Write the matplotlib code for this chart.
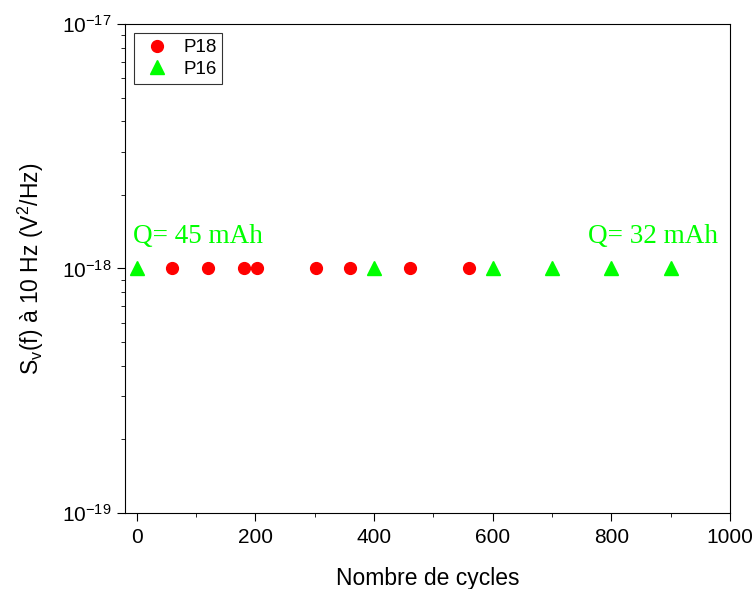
import matplotlib
matplotlib.use("Agg")
import matplotlib.pyplot as plt
from matplotlib.ticker import LogLocator, MultipleLocator, NullFormatter

p18_cycles = [60, 120, 180, 202, 302, 360, 460, 560]
p18_sv = [1e-18] * len(p18_cycles)
p16_cycles = [0, 400, 600, 700, 800, 900]
p16_sv = [1e-18] * len(p16_cycles)

plt.rcParams['font.family'] = ['Liberation Sans', 'DejaVu Sans']
plt.rcParams['mathtext.fontset'] = 'custom'
plt.rcParams['mathtext.rm'] = 'Liberation Sans'
plt.rcParams['mathtext.it'] = 'Liberation Sans'

fig = plt.figure(figsize=(7.56, 5.89), dpi=100)
ax = fig.add_axes([0.1653, 0.129, 0.8003, 0.8303])

ax.plot(p18_cycles, p18_sv, 'o', color='#ff0000', markersize=8.5, label='P18', linestyle='none')
ax.plot(p16_cycles, p16_sv, '^', color='#00ff00', markersize=10, label='P16', linestyle='none')

ax.set_yscale('log')
ax.set_ylim(1e-19, 1e-17)
ax.set_xlim(-20, 1000)
ax.xaxis.set_major_locator(MultipleLocator(200))
ax.xaxis.set_minor_locator(MultipleLocator(100))
ax.yaxis.set_major_locator(LogLocator(base=10))
ax.yaxis.set_minor_locator(LogLocator(base=10, subs=range(2, 10)))
ax.yaxis.set_minor_formatter(NullFormatter())
ax.tick_params(axis='both', which='major', direction='out', length=6, labelsize=15, top=False, right=False)
ax.tick_params(axis='x', which='major', pad=5)
ax.tick_params(axis='both', which='minor', direction='out', length=3, top=False, right=False)

ax.set_xlabel('Nombre de cycles', fontsize=16.5, labelpad=14)
ax.set_ylabel('S$_\\mathregular{v}$(f) à 10 Hz (V$^\\mathregular{2}$/Hz)', fontsize=16.5, labelpad=12)

ax.text(-7, 1.2e-18, 'Q= 45 mAh', color='#00ff00', fontsize=19.5, family='Liberation Serif', ha='left', va='bottom')
ax.text(980, 1.2e-18, 'Q= 32 mAh', color='#00ff00', fontsize=19.5, family='Liberation Serif', ha='right', va='bottom')

leg = ax.legend(loc='upper left', fontsize=13.5, frameon=True, fancybox=False, edgecolor='black',
                handletextpad=0.5, borderpad=0.3, labelspacing=0.25, handlelength=1.8,
                bbox_to_anchor=(0.0, 1.0))
leg.get_frame().set_linewidth(0.8)

fig.savefig('out.png', dpi=100)
